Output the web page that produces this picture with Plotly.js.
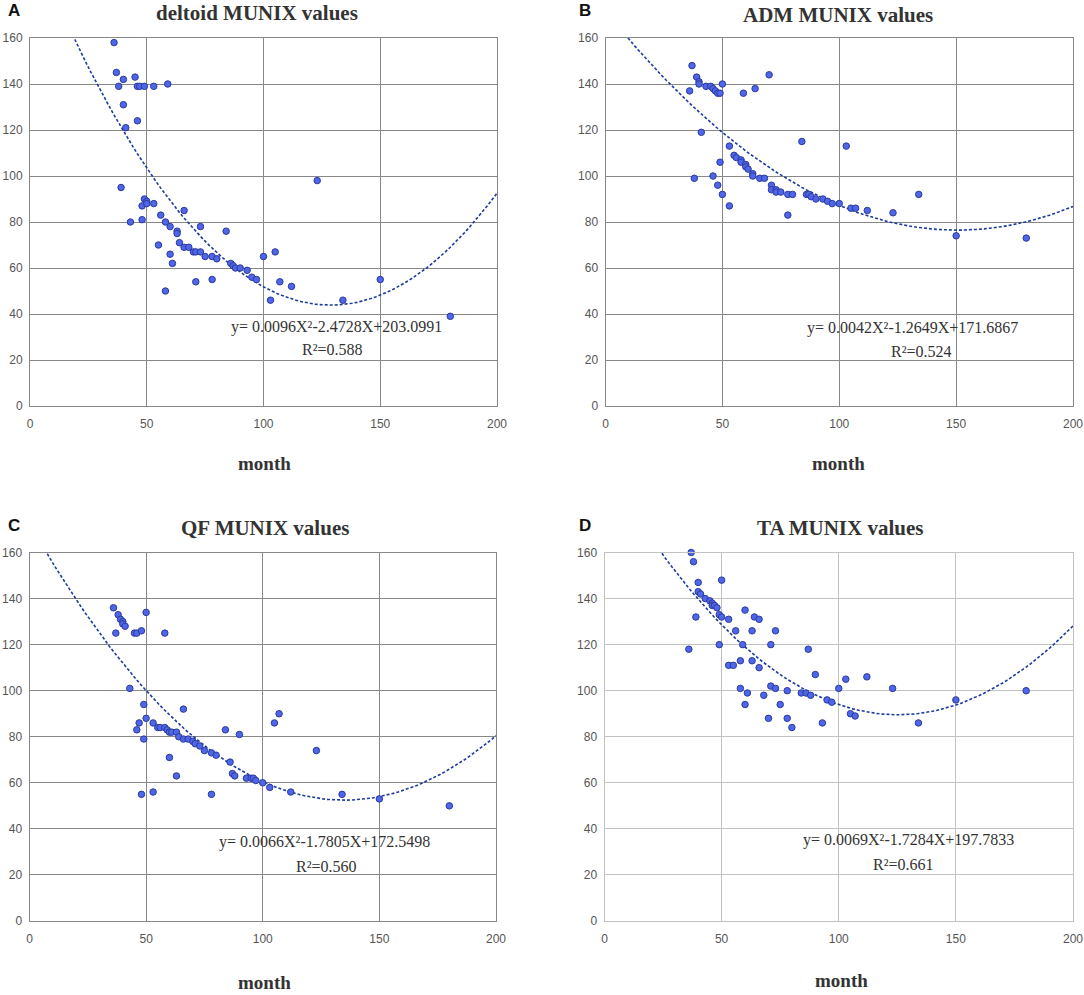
<!DOCTYPE html>
<html>
<head>
<meta charset="utf-8">
<script src="https://cdn.plot.ly/plotly-3.0.1.min.js"></script>
<style>
  html, body { margin: 0; padding: 0; background: #fff; }
  #chart { width: 1084px; height: 995px; }
</style>
</head>
<body>
<div id="chart"></div>
<script>
// values, one pair of arrays per panel
var deltoidMonths = [36, 37, 38, 40, 40, 41, 39, 43, 45, 46, 47, 46, 48, 48, 49, 49, 50, 50, 53, 53,
  55, 56, 58, 58, 59, 60, 60, 61, 63, 63, 64, 66, 66, 68, 70, 71, 71, 73, 73, 75,
  78, 78, 80, 84, 86, 87, 88, 90, 93, 95, 97, 100, 103, 105, 107, 112, 123, 134, 150, 180];
var deltoidValues = [158, 145, 139, 142, 131, 121, 95, 80, 143, 139, 139, 124, 87, 81, 139, 90, 89, 88, 139, 88,
  70, 83, 80, 50, 140, 78, 66, 62, 76, 75, 71, 85, 69, 69, 67, 67, 54, 78, 67, 65,
  65, 55, 64, 76, 62, 61, 60, 60, 59, 56, 55, 65, 46, 67, 54, 52, 98, 46, 55, 39];

var admMonths = [36, 37, 38, 39, 40, 40, 41, 43, 45, 46, 46, 47, 48, 48, 49, 49, 50, 50, 53, 53,
  55, 56, 58, 58, 59, 60, 60, 61, 63, 63, 64, 66, 68, 70, 71, 71, 73, 73, 75, 78,
  78, 80, 84, 86, 87, 88, 90, 93, 95, 97, 100, 103, 105, 107, 112, 123, 134, 150, 180];
var admValues = [137, 148, 99, 143, 141, 140, 119, 139, 139, 138, 100, 137, 136, 96, 136, 106, 140, 92, 113, 87,
  109, 108, 107, 106, 136, 105, 104, 103, 101, 100, 138, 99, 99, 144, 96, 94, 94, 93, 93, 92,
  83, 92, 115, 92, 92, 91, 90, 90, 89, 88, 88, 113, 86, 86, 85, 84, 92, 74, 73];

var qfMonths = [36, 37, 38, 39, 40, 40, 41, 43, 45, 46, 46, 47, 48, 48, 49, 49, 50, 50, 53, 53,
  55, 56, 58, 58, 59, 60, 60, 61, 63, 63, 64, 66, 66, 68, 70, 71, 73, 75, 78, 78,
  80, 84, 86, 87, 88, 90, 93, 95, 96, 97, 100, 103, 105, 107, 112, 123, 134, 150, 180];
var qfValues = [136, 125, 133, 131, 130, 129, 128, 101, 125, 125, 83, 86, 126, 55, 94, 79, 134, 88, 86, 56,
  84, 84, 84, 125, 83, 82, 71, 82, 82, 63, 80, 92, 79, 79, 78, 77, 76, 74, 73, 55,
  72, 83, 69, 64, 63, 81, 62, 62, 62, 61, 60, 58, 86, 90, 56, 74, 55, 53, 50];

var taMonths = [36, 37, 38, 39, 40, 40, 41, 43, 45, 46, 46, 47, 48, 49, 49, 50, 50, 53, 53, 55,
  56, 58, 58, 59, 60, 60, 61, 63, 63, 64, 66, 66, 68, 70, 71, 71, 73, 73, 75, 78,
  78, 80, 84, 86, 87, 88, 90, 93, 95, 97, 100, 103, 105, 107, 112, 123, 134, 150, 180];
var taValues = [118, 160, 156, 132, 147, 143, 142, 140, 139, 138, 137, 137, 136, 133, 120, 148, 132, 131, 111, 111,
  126, 113, 101, 120, 135, 94, 99, 126, 113, 132, 131, 110, 98, 88, 120, 102, 126, 101, 94, 100,
  88, 84, 99, 99, 118, 98, 107, 86, 96, 95, 101, 105, 90, 89, 106, 101, 86, 96, 100];

// fitted curves as printed on each panel: [a, b, c] for y = aX^2 + bX + c
var deltoidFit = [0.0096, -2.4728, 203.0991];
var admFit = [0.0042, -1.2649, 171.6867];
var qfFit = [0.0066, -1.7805, 172.5498];
var taFit = [0.0069, -1.7284, 197.7833];

var panelTitles = ['deltoid MUNIX values', 'ADM MUNIX values', 'QF MUNIX values', 'TA MUNIX values'];
var panelLetters = ['A', 'B', 'C', 'D'];
var fitLabels = [
  'y= 0.0096X\u00b2-2.4728X+203.0991',
  'y= 0.0042X\u00b2-1.2649X+171.6867',
  'y= 0.0066X\u00b2-1.7805X+172.5498',
  'y= 0.0069X\u00b2-1.7284X+197.7833'
];
var r2Labels = ['R\u00b2=0.588', 'R\u00b2=0.524', 'R\u00b2=0.560', 'R\u00b2=0.661'];
var xTicks = [0, 50, 100, 150, 200];
var yTicks = [0, 20, 40, 60, 80, 100, 120, 140, 160];

(function () {
  'use strict';

  var W = 1084, H = 995;
  function px(x) { return x / W; }
  function py(y) { return 1 - y / H; }

  var months = [deltoidMonths, admMonths, qfMonths, taMonths];
  var values = [deltoidValues, admValues, qfValues, taValues];
  var fits = [deltoidFit, admFit, qfFit, taFit];

  // plot boxes in pixels: left, right, top, bottom
  var boxes = [
    [30, 497, 38, 406],
    [605.5, 1073, 38, 406],
    [29.5, 496, 552.5, 921],
    [604.5, 1073, 552.5, 921]
  ];
  var gridColors = ['#888', '#888', '#888', '#c2c2c2'];
  var titlePos = [[257, 13], [838, 15], [265, 528], [840, 528]];
  var letterPos = [[14, 10], [585, 10], [14, 525], [585, 525]];
  var monthPos = [[264, 463], [838, 463], [264, 982], [841, 980]];
  var fitPos = [[336, 327], [912, 328], [324, 842], [908, 840]];
  var r2Pos = [[332, 350], [921, 351], [326, 866], [903, 864]];

  var traces = [];
  var layout = {
    width: W,
    height: H,
    margin: { l: 0, r: 0, t: 0, b: 0 },
    paper_bgcolor: '#fff',
    plot_bgcolor: '#fff',
    showlegend: false,
    annotations: []
  };

  var serif = 'Liberation Serif, Times New Roman, serif';
  var sans = 'Liberation Sans, Arial, sans-serif';

  for (var i = 0; i < 4; i++) {
    var xa = i === 0 ? 'x' : 'x' + (i + 1);
    var ya = i === 0 ? 'y' : 'y' + (i + 1);
    var b = boxes[i];
    var f = fits[i];

    // trend line sampled along the axis using the printed coefficients
    var cx = [], cy = [];
    for (var m = 0; m <= 200; m += 2) {
      cx.push(m);
      cy.push(f[0] * m * m + f[1] * m + f[2]);
    }
    traces.push({
      x: cx, y: cy, xaxis: xa, yaxis: ya,
      type: 'scatter', mode: 'lines',
      line: { color: '#1c3b9e', width: 1.6, dash: '3px,2px' },
      hoverinfo: 'skip'
    });
    traces.push({
      x: months[i], y: values[i], xaxis: xa, yaxis: ya,
      type: 'scatter', mode: 'markers',
      cliponaxis: false,
      marker: { size: 6.5, color: '#5066e8', line: { color: '#2b3a9c', width: 1 } }
    });

    var axCommon = {
      showgrid: true,
      gridcolor: gridColors[i],
      gridwidth: 1,
      zeroline: false,
      showline: true,
      mirror: true,
      linecolor: gridColors[i],
      linewidth: 1,
      ticks: '',
      tickfont: { family: sans, size: 12, color: '#555' },
      fixedrange: true
    };
    layout['xaxis' + (i === 0 ? '' : i + 1)] = Object.assign({}, axCommon, {
      domain: [px(b[0]), px(b[1])],
      anchor: ya,
      range: [0, 200],
      tickmode: 'array',
      tickvals: xTicks,
      ticklabelstandoff: 7
    });
    layout['yaxis' + (i === 0 ? '' : i + 1)] = Object.assign({}, axCommon, {
      domain: [py(b[3]), py(b[2])],
      anchor: xa,
      range: [0, 160],
      tickmode: 'array',
      tickvals: yTicks,
      ticklabelstandoff: 4
    });

    layout.annotations.push(
      { text: '<b>' + panelTitles[i] + '</b>', x: px(titlePos[i][0]), y: py(titlePos[i][1]),
        xref: 'paper', yref: 'paper', showarrow: false, xanchor: 'center', yanchor: 'middle',
        font: { family: serif, size: 21, color: '#333' } },
      { text: '<b>' + panelLetters[i] + '</b>', x: px(letterPos[i][0]), y: py(letterPos[i][1]),
        xref: 'paper', yref: 'paper', showarrow: false, xanchor: 'center', yanchor: 'middle',
        font: { family: sans, size: 17, color: '#111' } },
      { text: '<b>month</b>', x: px(monthPos[i][0]), y: py(monthPos[i][1]),
        xref: 'paper', yref: 'paper', showarrow: false, xanchor: 'center', yanchor: 'middle',
        font: { family: serif, size: 19, color: '#333' } },
      { text: fitLabels[i], x: px(fitPos[i][0]), y: py(fitPos[i][1]),
        xref: 'paper', yref: 'paper', showarrow: false, xanchor: 'center', yanchor: 'middle',
        font: { family: serif, size: 16, color: '#333' } },
      { text: r2Labels[i], x: px(r2Pos[i][0]), y: py(r2Pos[i][1]),
        xref: 'paper', yref: 'paper', showarrow: false, xanchor: 'center', yanchor: 'middle',
        font: { family: serif, size: 16, color: '#333' } }
    );
  }

  Plotly.newPlot('chart', traces, layout, { displayModeBar: false, staticPlot: true });
})();
</script>
</body>
</html>
